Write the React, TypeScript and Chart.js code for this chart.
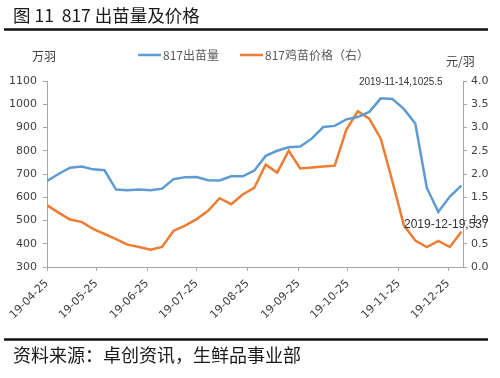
import React, { useEffect, useRef } from 'react';
import { Chart, registerables } from 'chart.js';

Chart.register(...registerables);

// ---- data ----
const dates = [
  '2019-04-25', '2019-05-02', '2019-05-09', '2019-05-16', '2019-05-23', '2019-05-30',
  '2019-06-06', '2019-06-13', '2019-06-20', '2019-06-27', '2019-07-04', '2019-07-11',
  '2019-07-18', '2019-07-25', '2019-08-01', '2019-08-08', '2019-08-15', '2019-08-22',
  '2019-08-29', '2019-09-05', '2019-09-12', '2019-09-19', '2019-09-26', '2019-10-03',
  '2019-10-10', '2019-10-17', '2019-10-24', '2019-10-31', '2019-11-07', '2019-11-14',
  '2019-11-21', '2019-11-28', '2019-12-05', '2019-12-12', '2019-12-19', '2019-12-26',
  '2020-01-02',
];
const outputValues = [
  670, 700, 727, 732, 720, 716, 633, 630, 633, 630, 637, 678, 686, 687, 673, 672, 690, 690,
  714, 778, 800, 815, 818, 852, 902, 907, 935, 945, 967, 1025.5, 1023, 980, 917, 640, 537,
  603, 650,
];
const priceValues = [
  1.33, 1.17, 1.02, 0.97, 0.82, 0.71, 0.6, 0.48, 0.43, 0.37, 0.43, 0.78, 0.89, 1.03, 1.21,
  1.48, 1.35, 1.56, 1.7, 2.2, 2.03, 2.5, 2.12, 2.14, 2.16, 2.18, 2.95, 3.35, 3.19, 2.76, 1.85,
  0.9, 0.57, 0.43, 0.56, 0.43, 0.76,
];
const xTickDates = [
  '2019-04-25', '2019-05-25', '2019-06-25', '2019-07-25', '2019-08-25',
  '2019-09-25', '2019-10-25', '2019-11-25', '2019-12-25',
];
const xTickLabels = [
  '19-04-25', '19-05-25', '19-06-25', '19-07-25', '19-08-25',
  '19-09-25', '19-10-25', '19-11-25', '19-12-25',
];
const xEndDate = '2020-01-03';
const leftTicks = { min: 300, max: 1100, step: 100 };
const rightTicks = { min: 0, max: 4, step: 0.5 };
const seriesNames = ['817出苗量', '817鸡苗价格（右）'];
const annotations = [
  { date: '2019-11-14', value: 1025.5, text: '2019-11-14,1025.5' },
  { date: '2019-12-19', value: 537, text: '2019-12-19,537' },
];

const BLUE = '#5f9bd3';
const ORANGE = '#ed7d31';
const AXIS = '#a6a6a6';
const TICK_TEXT = '#404040';
const CJK = '"Noto Sans CJK SC", "Noto Sans", sans-serif';

const dayOf = (d: string) => (Date.parse(d) - Date.parse(dates[0])) / 86400000;

const decorPlugin = {
  id: 'decor',
  afterDraw(chart: any) {
    const ctx = chart.ctx as CanvasRenderingContext2D;
    ctx.save();
    // title
    ctx.fillStyle = '#1a1a1a';
    ctx.font = `17.5px ${CJK}`;
    ctx.textBaseline = 'middle';
    ctx.textAlign = 'left';
    ctx.fillText('图 11  817 出苗量及价格', 13, 15);
    // rules
    ctx.strokeStyle = '#111';
    ctx.lineWidth = 2.4;
    ctx.beginPath();
    ctx.moveTo(4, 29.5);
    ctx.lineTo(488, 29.5);
    ctx.moveTo(4, 339.5);
    ctx.lineTo(488, 339.5);
    ctx.stroke();
    // footer
    ctx.fillStyle = '#1a1a1a';
    ctx.font = `18px ${CJK}`;
    ctx.fillText('资料来源：卓创资讯，生鲜品事业部', 13, 355);
    // units
    ctx.fillStyle = '#404040';
    ctx.font = `12px ${CJK}`;
    ctx.fillText('万羽', 32, 56);
    ctx.fillText('元/羽', 446, 61);
    // legend
    const legendItems = [
      { x: 138, color: BLUE, text: seriesNames[0] },
      { x: 240, color: ORANGE, text: seriesNames[1] },
    ];
    legendItems.forEach((it) => {
      ctx.strokeStyle = it.color;
      ctx.lineWidth = 2.5;
      ctx.beginPath();
      ctx.moveTo(it.x, 55);
      ctx.lineTo(it.x + 23, 55);
      ctx.stroke();
      ctx.fillStyle = '#595959';
      ctx.font = `12px ${CJK}`;
      ctx.fillText(it.text, it.x + 25, 55);
    });
    // annotations
    const xs = chart.scales.x;
    const ys = chart.scales.y;
    const a0 = annotations[0];
    const p0x = xs.getPixelForValue(dayOf(a0.date));
    const p0y = ys.getPixelForValue(a0.value);
    ctx.fillStyle = '#333';
    ctx.font = '10px "Liberation Sans", Arial, sans-serif';
    ctx.textAlign = 'center';
    ctx.fillText(a0.text, p0x + 20, p0y - 16);
    const a1 = annotations[1];
    const p1x = xs.getPixelForValue(dayOf(a1.date));
    const p1y = ys.getPixelForValue(a1.value);
    ctx.font = '12px "Liberation Sans", Arial, sans-serif';
    ctx.fillText(a1.text, p1x + 8, p1y + 13);
    ctx.restore();
  },
};

export default function App() {
  const canvasRef = useRef<HTMLCanvasElement | null>(null);

  useEffect(() => {
    const canvas = canvasRef.current;
    if (!canvas) return;
    const tickDays = xTickDates.map(dayOf);
    const tickFont = { family: '"DejaVu Sans", sans-serif', size: 11 };
    const chart = new Chart(canvas, {
      type: 'line',
      data: {
        datasets: [
          {
            label: seriesNames[0],
            data: dates.map((d, i) => ({ x: dayOf(d), y: outputValues[i] })),
            borderColor: BLUE,
            backgroundColor: BLUE,
            borderWidth: 2.5,
            pointRadius: 0,
            tension: 0,
            yAxisID: 'y',
          },
          {
            label: seriesNames[1],
            data: dates.map((d, i) => ({ x: dayOf(d), y: priceValues[i] })),
            borderColor: ORANGE,
            backgroundColor: ORANGE,
            borderWidth: 2.5,
            pointRadius: 0,
            tension: 0,
            yAxisID: 'y1',
          },
        ],
      },
      options: {
        animation: false,
        responsive: false,
        events: [],
        layout: { padding: { top: 81, left: 0, right: 0, bottom: 0 } },
        plugins: { legend: { display: false }, tooltip: { enabled: false }, title: { display: false } },
        scales: {
          x: {
            type: 'linear',
            min: 0,
            max: dayOf(xEndDate),
            afterBuildTicks: (s: any) => {
              s.ticks = tickDays.map((v) => ({ value: v }));
            },
            afterFit: (s: any) => {
              s.height = 111;
              s.paddingLeft = 0;
              s.paddingRight = 0;
            },
            ticks: {
              autoSkip: false,
              minRotation: 45,
              maxRotation: 45,
              padding: 6,
              color: TICK_TEXT,
              font: tickFont,
              callback: (_v: any, i: number) => xTickLabels[i],
            },
            grid: { drawOnChartArea: false, drawTicks: true, tickLength: 4, color: AXIS },
            border: { display: true, color: AXIS, width: 1 },
          },
          y: {
            type: 'linear',
            position: 'left',
            min: leftTicks.min,
            max: leftTicks.max,
            afterFit: (s: any) => {
              s.width = 47;
              s.paddingTop = 0;
              s.paddingBottom = 0;
            },
            ticks: {
              stepSize: leftTicks.step,
              padding: 6,
              color: TICK_TEXT,
              font: tickFont,
              callback: (v: any) => String(v),
            },
            grid: { drawOnChartArea: false, drawTicks: true, tickLength: 4, color: AXIS },
            border: { display: true, color: AXIS, width: 1 },
          },
          y1: {
            type: 'linear',
            position: 'right',
            min: rightTicks.min,
            max: rightTicks.max,
            afterFit: (s: any) => {
              s.width = 37;
              s.paddingTop = 0;
              s.paddingBottom = 0;
            },
            ticks: {
              stepSize: rightTicks.step,
              padding: 4,
              color: TICK_TEXT,
              font: tickFont,
              callback: (v: any) => Number(v).toFixed(1),
            },
            grid: { drawOnChartArea: false, drawTicks: true, tickLength: 4, color: AXIS },
            border: { display: true, color: AXIS, width: 1 },
          },
        },
      },
      plugins: [decorPlugin],
    } as any);
    return () => chart.destroy();
  }, []);

  return (
    <div style={{ position: 'absolute', left: 0, top: 0, width: 500, height: 378, background: '#fff' }}>
      <canvas ref={canvasRef} width={500} height={378} style={{ width: 500, height: 378, display: 'block' }} />
    </div>
  );
}
